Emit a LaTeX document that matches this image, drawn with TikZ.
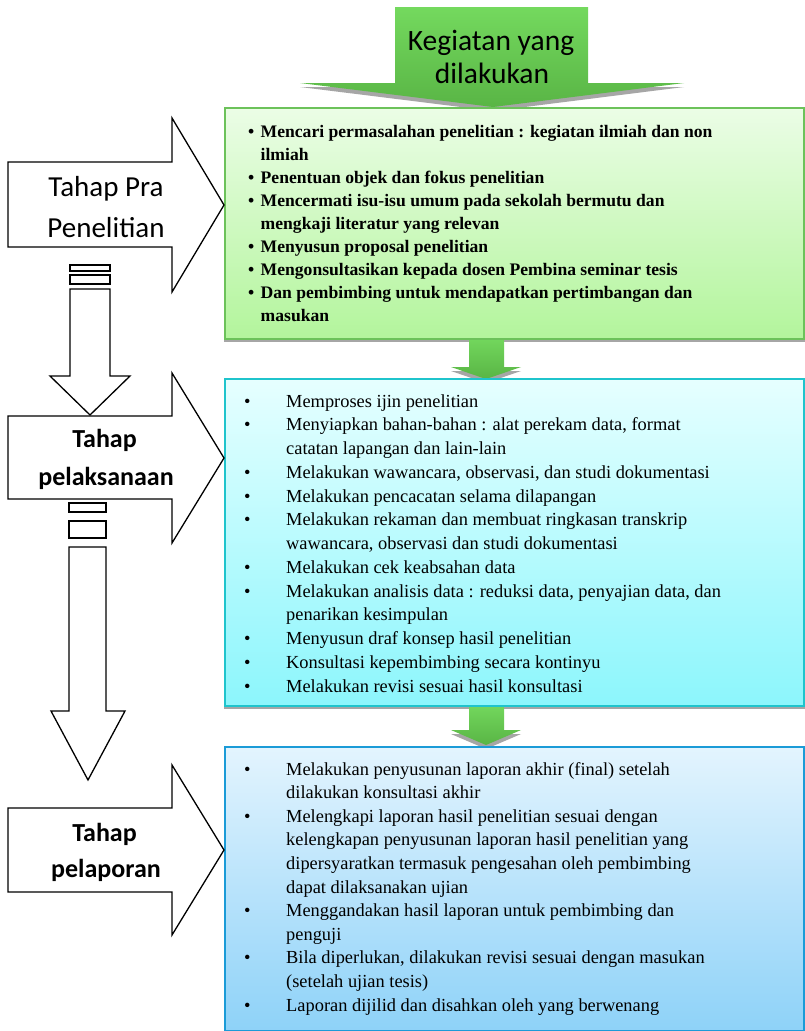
\documentclass[tikz,border=0pt]{standalone}
\usepackage{fontspec}
\setmainfont{Liberation Serif}
\newfontfamily\calib{Carlito}
\definecolor{garTop}{HTML}{74D95E}
\definecolor{garBot}{HTML}{59B545}
\definecolor{bAline}{HTML}{6CC25A}
\definecolor{bAtop}{HTML}{EBFDE6}
\definecolor{bAbot}{HTML}{B3F59C}
\definecolor{bBline}{HTML}{1FC4CC}
\definecolor{bBtop}{HTML}{E6FFFF}
\definecolor{bBbot}{HTML}{8CF6FC}
\definecolor{bCline}{HTML}{1B9BD7}
\definecolor{bCtop}{HTML}{E3F4FE}
\definecolor{bCbot}{HTML}{8ED2F8}
\newcommand\bul[2]{\makebox[#1][l]{\textbullet}#2}
\tikzset{
  blockarrow/.style={draw=black, line width=1.3pt, fill=white, line join=miter},
  greenarrow/.style={top color=garTop, bottom color=garBot, draw=none},
  shadowfill/.style={fill=black!35},
  boxbase/.style={line width=2pt, inner sep=0pt, anchor=north west, minimum width=579pt},
  boxA/.style={boxbase, draw=bAline, top color=bAtop, bottom color=bAbot},
  boxB/.style={boxbase, draw=bBline, top color=bBtop, bottom color=bBbot},
  boxC/.style={boxbase, draw=bCline, top color=bCtop, bottom color=bCbot},
  lbl/.style={font=\calib\fontsize{29}{35}\selectfont, anchor=base, inner sep=0pt},
  lblb/.style={font=\calib\bfseries\fontsize{26}{30}\selectfont, anchor=base, inner sep=0pt},
  toplbl/.style={font=\calib\fontsize{29.5}{35}\selectfont, anchor=base, inner sep=0pt},
  btext/.style={anchor=base west, inner sep=0pt},
}
\begin{document}
\begin{tikzpicture}[x=1pt,y=-1pt]
\useasboundingbox (0,0) rectangle (804,1031);
\fill[white] (0,0) rectangle (804,1031);

% ---- box shadows
\fill[shadowfill] (224,111) rectangle (806,342);
\fill[shadowfill] (224,382) rectangle (806,709);

% ---- top green arrow
\fill[shadowfill] (300,87) -- (684,87) -- (493,111) -- cycle;
\path[greenarrow] (395,7) -- (588,7) -- (588,83) -- (684,83) -- (493,107) -- (300,83) -- (395,83) -- cycle;
\node[toplbl] (kg1) at (491,50) {Kegiatan yang};
\node[toplbl] (kg2) at (492,83) {dilakukan};

% ---- small green arrows between boxes
\fill[shadowfill] (451,371) -- (521,371) -- (486,383) -- cycle;
\path[greenarrow] (469,336) -- (504,336) -- (504,367) -- (521,367) -- (486,379) -- (451,367) -- (469,367) -- cycle;
\fill[shadowfill] (451,734) -- (521,734) -- (486,749) -- cycle;
\path[greenarrow] (469,703) -- (504,703) -- (504,730) -- (521,730) -- (486,745) -- (451,730) -- (469,730) -- cycle;

% ---- boxes
\node[boxA, minimum height=231pt] (b1) at (224,107) {};
\node[boxB, minimum height=327pt] (b2) at (224,378) {};
\node[boxC, minimum height=284pt] (b3) at (224,746) {};

% ---- box texts
\node[btext] (t1) at (248,137) {\parbox[t]{550pt}{\fontsize{17.6}{23.1}\selectfont\bfseries
\bul{12.5pt}{Mencari permasalahan penelitian : kegiatan ilmiah dan non}\\
\hspace*{12.5pt}ilmiah\\
\bul{12.5pt}{Penentuan objek dan fokus penelitian}\\
\bul{12.5pt}{Mencermati isu-isu umum pada sekolah bermutu dan}\\
\hspace*{12.5pt}mengkaji literatur yang relevan\\
\bul{12.5pt}{Menyusun proposal penelitian}\\
\bul{12.5pt}{Mengonsultasikan kepada dosen Pembina seminar tesis}\\
\bul{12.5pt}{Dan pembimbing untuk mendapatkan pertimbangan dan}\\
\hspace*{12.5pt}masukan}};

\node[btext] (t2) at (244,407) {\parbox[t]{555pt}{\fontsize{18.4}{23.75}\selectfont
\bul{42pt}{Memproses ijin penelitian}\\
\bul{42pt}{Menyiapkan bahan-bahan : alat perekam data, format}\\
\hspace*{42pt}catatan lapangan dan lain-lain\\
\bul{42pt}{Melakukan wawancara, observasi, dan studi dokumentasi}\\
\bul{42pt}{Melakukan pencacatan selama dilapangan}\\
\bul{42pt}{Melakukan rekaman dan membuat ringkasan transkrip}\\
\hspace*{42pt}wawancara, observasi dan studi dokumentasi\\
\bul{42pt}{Melakukan cek keabsahan data}\\
\bul{42pt}{Melakukan analisis data : reduksi data, penyajian data, dan}\\
\hspace*{42pt}penarikan kesimpulan\\
\bul{42pt}{Menyusun draf konsep hasil penelitian}\\
\bul{42pt}{Konsultasi kepembimbing secara kontinyu}\\
\bul{42pt}{Melakukan revisi sesuai hasil konsultasi}}};

\node[btext] (t3) at (244,775) {\parbox[t]{555pt}{\fontsize{18.4}{23.6}\selectfont
\bul{42pt}{Melakukan penyusunan laporan akhir (final) setelah}\\
\hspace*{42pt}dilakukan konsultasi akhir\\
\bul{42pt}{Melengkapi laporan hasil penelitian sesuai dengan}\\
\hspace*{42pt}kelengkapan penyusunan laporan hasil penelitian yang\\
\hspace*{42pt}dipersyaratkan termasuk pengesahan oleh pembimbing\\
\hspace*{42pt}dapat dilaksanakan ujian\\
\bul{42pt}{Menggandakan hasil laporan untuk pembimbing dan}\\
\hspace*{42pt}penguji\\
\bul{42pt}{Bila diperlukan, dilakukan revisi sesuai dengan masukan}\\
\hspace*{42pt}(setelah ujian tesis)\\
\bul{42pt}{Laporan dijilid dan disahkan oleh yang berwenang}}};

% ---- left block arrows
\path[blockarrow] (8,162) -- (172,162) -- (172,118) -- (224,205) -- (172,292) -- (172,247) -- (8,247) -- cycle;
\node[lbl] (a1a) at (106,196) {Tahap Pra};
\node[lbl] (a1b) at (106,237) {Penelitian};

\path[blockarrow] (8,416) -- (172,416) -- (172,373) -- (224,458) -- (172,543) -- (172,499) -- (8,499) -- cycle;
\node[lblb] (a2a) at (104.5,447) {Tahap};
\node[lblb] (a2b) at (106,485) {pelaksanaan};

\path[blockarrow] (8,808) -- (172,808) -- (172,765) -- (224,850) -- (172,935) -- (172,892) -- (8,892) -- cycle;
\node[lblb] (a3a) at (104.5,841) {Tahap};
\node[lblb] (a3b) at (106,877) {pelaporan};

% ---- down arrows with bars
\path[blockarrow] (70,265) rectangle (110,271);
\path[blockarrow] (70,275) rectangle (110,284);
\path[blockarrow] (70,289) -- (110,289) -- (110,376) -- (130,376) -- (90,415) -- (50,376) -- (70,376) -- cycle;

\path[blockarrow] (69,503) rectangle (106,512);
\path[blockarrow] (69,521) rectangle (106,538);
\path[blockarrow] (69,547) -- (106,547) -- (106,711) -- (125,711) -- (88,780) -- (51,711) -- (69,711) -- cycle;
\end{tikzpicture}
\end{document}
